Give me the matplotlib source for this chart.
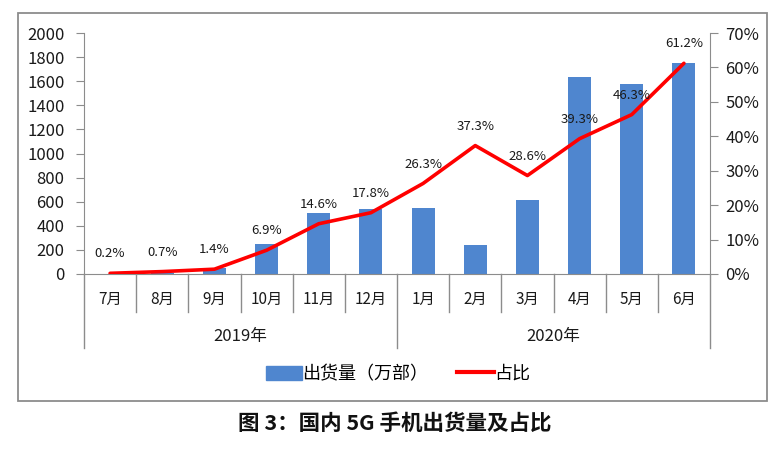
import numpy as np
import matplotlib
matplotlib.use("Agg")
import matplotlib.pyplot as plt
from matplotlib.patches import Rectangle, Patch
from matplotlib.lines import Line2D

plt.rcParams['font.family'] = ['Noto Sans CJK SC', 'DejaVu Sans']

# data
months = ['7月', '8月', '9月', '10月', '11月', '12月', '1月', '2月', '3月', '4月', '5月', '6月']
years = ['2019年', '2020年']
shipments = [3, 8, 50, 249, 507, 543, 546, 239, 617, 1638, 1574, 1751]
share = [0.2, 0.7, 1.4, 6.9, 14.6, 17.8, 26.3, 37.3, 28.6, 39.3, 46.3, 61.2]

W, H = 782, 455
fig = plt.figure(figsize=(W / 100, H / 100), dpi=100)

# outer frame
fig.patches.append(Rectangle((18 / W, 1 - 401 / H), (767 - 18) / W, (401 - 13) / H,
                             transform=fig.transFigure, fill=False, ec='#8c8c8c', lw=1.3))

ax = fig.add_axes([84 / W, 1 - 274 / H, 626 / W, 241 / H])
x = np.arange(len(months))
ax.bar(x, shipments, width=0.44, color='#4f86cf', zorder=2)
ax.set_xlim(-0.5, len(months) - 0.5)
ax.set_ylim(0, 2000)
ax.set_yticks(range(0, 2001, 200))
ax.tick_params(axis='y', direction='out', length=6, color='#8c8c8c', labelsize=12, pad=8, labelcolor='#1a1a1a')
ax.set_xticks([])
for s in ['top', 'right']:
    ax.spines[s].set_visible(False)
ax.spines['left'].set_color('#8c8c8c')
ax.spines['bottom'].set_color('#8c8c8c')

ax2 = ax.twinx()
ax2.set_ylim(0, 70)
ax2.set_yticks(range(0, 71, 10))
ax2.set_yticklabels([f'{v}%' for v in range(0, 71, 10)])
ax2.tick_params(axis='y', direction='out', length=6, color='#8c8c8c', labelsize=12, pad=5, labelcolor='#1a1a1a')
for s in ['top', 'left', 'bottom']:
    ax2.spines[s].set_visible(False)
ax2.spines['right'].set_color('#8c8c8c')
ax2.plot(x, share, color='#ff0000', lw=2.6, solid_capstyle='round', zorder=3)
for xi, v in zip(x, share):
    ax2.annotate(f'{v}%', (xi, v), xytext=(0, 14), textcoords='offset points',
                 ha='center', va='center', fontsize=9.5, color='#1a1a1a')

# category axis
tr = ax.get_xaxis_transform()
for i in range(len(months) + 1):
    bottom = -0.307 if i in (0, 6, 12) else -0.158
    ax.plot([i - 0.5, i - 0.5], [0, bottom], transform=tr, color='#8c8c8c', lw=1, clip_on=False)
for i, m in enumerate(months):
    ax.text(i, -0.104, m, transform=tr, ha='center', va='center', fontsize=11, color='#1a1a1a')
for j, yname in enumerate(years):
    ax.text(2.5 + 6 * j, -0.261, yname, transform=tr, ha='center', va='center', fontsize=12, color='#1a1a1a')

handles = [Patch(color='#4f86cf'), Line2D([], [], color='#ff0000', lw=3)]
fig.legend(handles, ['出货量（万部）', '占比'], loc='center', bbox_to_anchor=(398 / W, 1 - 374 / H),
           ncol=2, frameon=False, fontsize=13, handlelength=2.0, handleheight=0.8,
           columnspacing=1.6, handletextpad=0.05)

fig.text(395 / W, 1 - 423 / H, '图 3：国内 5G 手机出货量及占比', ha='center', va='center',
         fontsize=15.5, fontweight='bold', color='#111111')

fig.savefig('out.png', dpi=100)
